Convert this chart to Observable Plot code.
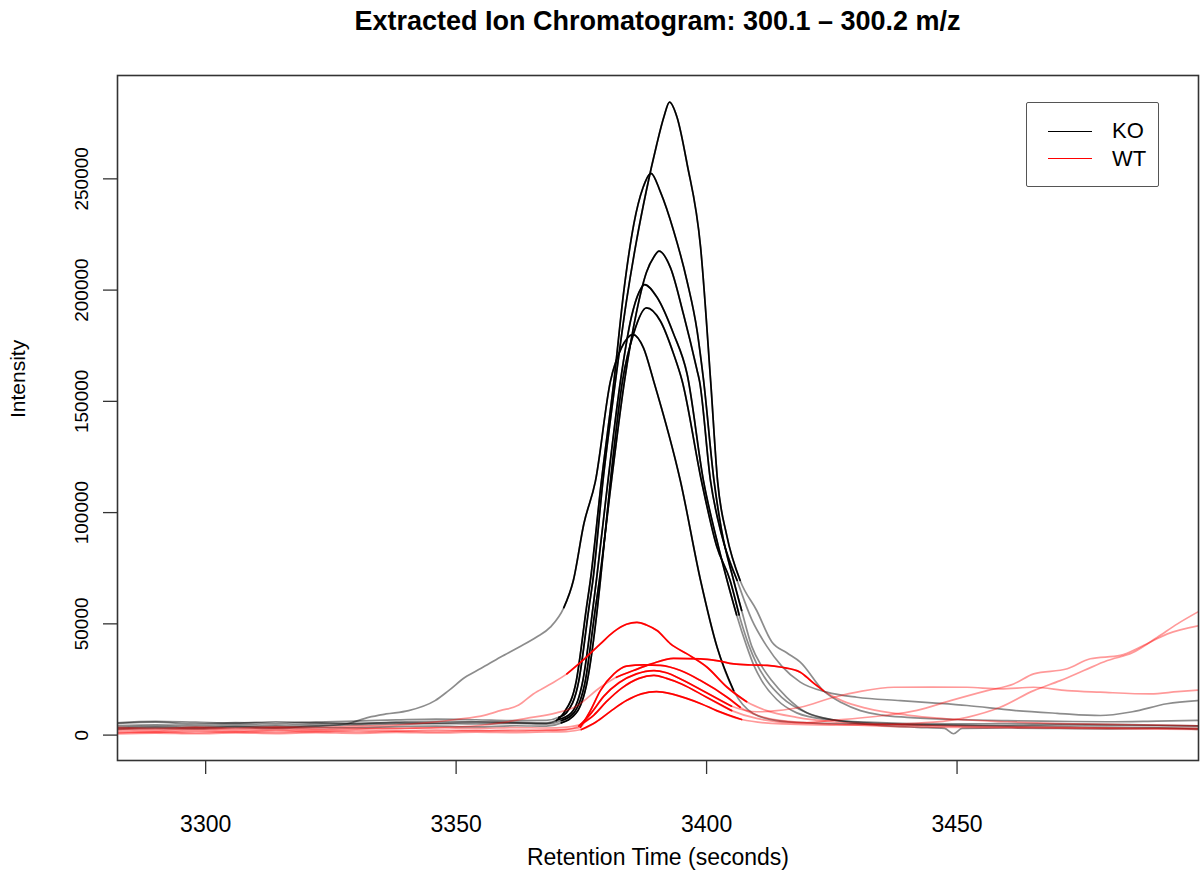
<!DOCTYPE html>
<html>
<head>
<meta charset="utf-8">
<script src="https://cdn.jsdelivr.net/npm/d3@7"></script>
<script src="https://cdn.jsdelivr.net/npm/@observablehq/plot@0.6"></script>
<style>
  body { margin: 0; background: #fff; font-family: "Liberation Sans", Arial, Helvetica, sans-serif; color: #000; }
  #wrap { position: relative; width: 1200px; height: 881px; overflow: hidden; }
  #title { position: absolute; left: 117px; width: 1081px; top: 0; height: 45px; line-height: 42px;
           text-align: center; font-weight: bold; font-size: 27px; }
  #chart { position: absolute; left: 0; top: 45px; }
  #legend { position: absolute; left: 1026px; top: 102px; width: 133px; height: 85px; box-sizing: border-box;
            border: 1.6px solid #555; border-radius: 2px; background: #fff; }
  .lg-line { position: absolute; left: 21px; width: 44px; height: 0; border-top: 1.6px solid; }
  .lg-text { position: absolute; left: 85px; font-size: 22px; line-height: 22px; }
</style>
</head>
<body>
<div id="wrap">
  <div id="title">Extracted Ion Chromatogram: 300.1 – 300.2 m/z</div>
  <div id="chart"></div>
  <div id="legend">
    <div class="lg-line" style="top:28px;border-color:#000"></div>
    <div class="lg-text" style="top:17px">KO</div>
    <div class="lg-line" style="top:55px;border-color:#ff0000"></div>
    <div class="lg-text" style="top:45px">WT</div>
  </div>
</div>
<script>
// ---- data: [retention time (s), intensity] ----
const ko1 = [[3282,5200],[3290,5800],[3298,5000],[3306,5600],[3314,5300],[3322,5800],[3330,6300],[3338,6800],[3346,7200],[3354,6900],[3362,6500],[3368,6600],[3370.5,8000],[3372,10000],[3374.5,24500],[3376.5,57000],[3377.3,69500],[3379.3,114000],[3381.8,159000],[3384,195000],[3386,222000],[3388,245000],[3390,265000],[3391.5,278000],[3392.6,284500],[3394.1,277700],[3396.1,256800],[3398.8,219300],[3400.8,159400],[3402.2,114000],[3404,90000],[3406.7,69500],[3410,56000],[3413,42000],[3416,37000],[3418.7,32800],[3423.3,20000],[3427,14500],[3430.7,11000],[3435,9000],[3440,8000],[3450,7000],[3460,6500],[3470,6200],[3480,6000],[3490,6300],[3498,6600]];
const ko2 = [[3282,4200],[3290,4600],[3298,4300],[3306,4800],[3314,4500],[3322,5000],[3330,5300],[3338,5600],[3346,5400],[3354,5800],[3362,5500],[3368,5200],[3370,6500],[3371.5,10000],[3374,24500],[3376,57000],[3376.8,69500],[3379,114000],[3381.5,159000],[3383.5,200000],[3385.5,230000],[3387.3,246000],[3388.9,252500],[3390.8,244000],[3393.4,226800],[3396.1,204000],[3398.1,181800],[3399.4,159400],[3401.5,114000],[3403,92000],[3405.4,69500],[3407,56000],[3409,40000],[3411,31000],[3413,24500],[3416,17000],[3420,10000],[3425,7000],[3432,5500],[3440,4800],[3450,4500],[3460,4300],[3470,4600],[3480,4400],[3490,4200],[3498,4000]];
const ko3 = [[3282,3500],[3290,3900],[3298,3600],[3306,4000],[3314,3800],[3322,4300],[3330,4600],[3338,5000],[3346,5200],[3354,5000],[3362,5300],[3368,5000],[3371,6500],[3373.5,10000],[3375.8,24500],[3377.8,57000],[3378.6,69500],[3381,114000],[3383.6,159000],[3386,190000],[3388,208000],[3389.5,215000],[3390.5,217500],[3392.8,210000],[3395.4,189000],[3398.1,164000],[3398.6,159000],[3400.8,114000],[3403,90000],[3406.1,69500],[3409,52000],[3412,40000],[3415,31000],[3418.7,23800],[3424,19300],[3430,17000],[3438.7,15500],[3445,14500],[3452,13300],[3461.3,11100],[3470,9800],[3478.6,8800],[3485,10500],[3491.9,14100],[3498,15500]];
const ko4 = [[3282,5500],[3290,6200],[3298,5800],[3306,5400],[3314,6000],[3322,5600],[3330,5200],[3338,5800],[3346,6200],[3354,6000],[3362,5700],[3368,5500],[3370.5,7000],[3373,10000],[3375.3,24500],[3377.3,57000],[3378,69500],[3380.3,114000],[3382.8,159000],[3385,188000],[3386.5,199000],[3387.6,202500],[3390.1,196800],[3393.4,180400],[3396.1,162400],[3399.4,114000],[3402,88000],[3404.1,69500],[3406,54000],[3408,40000],[3409.5,31000],[3411,24500],[3414,16000],[3418,10000],[3424,7000],[3432,5800],[3440,5200],[3450,5000],[3460,5200],[3470,5100],[3480,4800],[3490,4500],[3498,4200]];
const ko5 = [[3282,2500],[3290,3000],[3298,2800],[3306,3300],[3314,3000],[3322,3500],[3330,3300],[3338,3800],[3346,4000],[3354,3700],[3362,4200],[3368,4000],[3371,5500],[3374,10000],[3376.2,24500],[3378.2,57000],[3378.8,69500],[3380.8,114000],[3383.2,159000],[3385.5,181000],[3388,192000],[3390.8,186000],[3393.4,171400],[3395.1,159400],[3399,114000],[3402,85000],[3404.7,69500],[3406.5,54000],[3408.5,40000],[3410,32000],[3412,24500],[3415,17000],[3420,10000],[3426,6500],[3434,4500],[3442,3500],[3447.5,3000],[3449.3,600],[3451,3000],[3460,3200],[3470,3000],[3480,2800],[3490,3000],[3498,2600]];
const ko6 = [[3282,3000],[3290,3500],[3298,3200],[3306,3800],[3314,3400],[3322,4000],[3328,5000],[3332.5,8000],[3336,9500],[3340.5,11000],[3345.8,15500],[3348.5,20000],[3351.8,26000],[3355,30000],[3358.8,35000],[3362.5,39500],[3366,44000],[3368.8,48500],[3371.5,57300],[3373.4,69500],[3375.5,95000],[3377.8,114000],[3380.8,159000],[3383,174000],[3385.3,180000],[3387.4,174000],[3389.4,159400],[3394.8,114000],[3398.8,69500],[3402.1,39500],[3405.4,20000],[3409.3,9700],[3414,6500],[3420,5500],[3430,5000],[3440,4600],[3450,4300],[3460,4000],[3470,3800],[3480,3500],[3490,3300],[3498,3000]];

const wt1 = [[3282,3500],[3290,3000],[3298,3600],[3306,3200],[3314,3700],[3322,3400],[3330,4000],[3338,4500],[3344,5500],[3350,7000],[3355.8,9000],[3358.8,11000],[3362.5,13500],[3365.4,18500],[3368.5,22500],[3372.1,27500],[3375.5,34000],[3378.8,41000],[3381.5,46500],[3384,49800],[3386.1,50700],[3388,49500],[3390.1,47000],[3392.8,41000],[3396.1,36500],[3400.1,30500],[3404.1,21500],[3408,15000],[3412,11000],[3418,8000],[3425,6000],[3435,4800],[3445,4200],[3455,3800],[3465,3600],[3475,3400],[3485,3200],[3498,3000]];
const wt2 = [[3282,2200],[3290,1800],[3298,2400],[3306,2000],[3314,2500],[3322,2200],[3330,2700],[3338,3000],[3346,3400],[3354,4200],[3358.8,5500],[3364,7500],[3370,10000],[3374,13000],[3378.8,21500],[3382,26000],[3385.4,29000],[3389,32000],[3393.4,34500],[3398.8,34300],[3402,33500],[3405.4,32000],[3409,31500],[3412.1,31300],[3415,30500],[3418.7,28300],[3421,24000],[3423.3,20000],[3427,15500],[3432,12000],[3440,9000],[3450,7000],[3460,6000],[3470,5200],[3480,4800],[3490,4500],[3498,4200]];
const wt3 = [[3282,1500],[3290,1200],[3298,1800],[3306,1400],[3314,2000],[3322,1600],[3330,2100],[3338,1800],[3346,2200],[3354,2000],[3362,2300],[3368,2100],[3372,2600],[3374.8,3500],[3376.8,11000],[3378.8,20000],[3381.5,27500],[3384,31000],[3387.5,31600],[3390.8,31300],[3394.8,29000],[3398.8,24500],[3404.1,17000],[3406.7,12500],[3410,9000],[3415,6500],[3425,5000],[3435,4000],[3445,3600],[3455,3400],[3465,3200],[3475,3000],[3485,2800],[3498,2600]];
const wt4 = [[3282,1000],[3290,1400],[3298,1100],[3306,1500],[3314,1200],[3322,1700],[3330,1400],[3338,1800],[3346,1600],[3354,2000],[3362,1800],[3368,2200],[3372,2500],[3374.5,4000],[3377,10000],[3379.5,17500],[3382.5,23500],[3386,27500],[3389.5,29000],[3392,28000],[3395,25000],[3400,19000],[3405,13000],[3410,10500],[3414,11000],[3418.7,12500],[3425.4,17000],[3431,19800],[3437.4,21500],[3445,21600],[3452,21500],[3458.6,20800],[3465.3,21500],[3472,20000],[3478.6,19300],[3488.6,18500],[3494,19500],[3498.6,20300]];
const wt5 = [[3282,2800],[3290,2400],[3298,3000],[3306,2600],[3314,3100],[3322,2700],[3330,3200],[3338,2900],[3346,3300],[3354,3000],[3362,3400],[3368,3200],[3372,3600],[3375,5000],[3377.5,9000],[3380,15000],[3383,21000],[3386.5,25500],[3389.5,26800],[3392,25500],[3395,23000],[3400,17000],[3405,11000],[3410,7500],[3418,5500],[3425,6600],[3435.4,8800],[3442,11100],[3448.7,15500],[3456,20000],[3461.3,23000],[3465.3,27500],[3472,29800],[3476.6,34300],[3482.6,35800],[3487,40000],[3492,45500],[3498.6,49300]];
const wt6 = [[3282,500],[3290,900],[3298,600],[3306,1000],[3314,700],[3322,1100],[3330,800],[3338,1200],[3346,1000],[3354,1300],[3362,1100],[3368,1400],[3372,1600],[3375,2500],[3378,6000],[3381,11000],[3384,15500],[3387,18500],[3390,19500],[3393,18500],[3396,16500],[3399,14000],[3402,11000],[3407,7000],[3415,5000],[3425,4500],[3435,4800],[3445.3,5800],[3452,8000],[3458.6,12500],[3465.3,20000],[3470.6,24500],[3475.3,29000],[3480,33500],[3485,37000],[3490,44000],[3494,50000],[3498.6,56000]];

// integrated peak windows (rt start, rt end) per sample, drawn at full colour
const koWindows = [[3370.5,3409],[3370,3408],[3371,3407],[3370.5,3407],[3371,3408],[3371.5,3405.4]];
const wtWindows = [[3370,3408],[3382,3423.3],[3374.8,3407],[3374.5,3406],[3375,3406],[3375,3407]];

const groups = ["KO", "WT"];
const xTicks = [3300, 3350, 3400, 3450];
const yTicks = [0, 50000, 100000, 150000, 200000, 250000];
const xDomain = [3282.4, 3498.2];
const yDomain = [-11416, 296450];

function toRows(list, group, wins) {
  return list.flatMap((s, i) => s.map(([rt, v]) => ({
    rt, v, id: group + (i + 1), group,
    inWin: rt >= wins[i][0] && rt <= wins[i][1]
  })));
}
const koRows = toRows([ko1, ko2, ko3, ko4, ko5, ko6], groups[0], koWindows);
const wtRows = toRows([wt1, wt2, wt3, wt4, wt5, wt6], groups[1], wtWindows);

const lineOpts = {x: "rt", y: "v", z: "id", strokeWidth: 1.7, curve: "monotone-x", clip: true};

const chart = Plot.plot({
  width: 1200,
  height: 836,
  marginLeft: 117,
  marginRight: 2,
  marginTop: 30,
  marginBottom: 121,
  style: {fontFamily: '"Liberation Sans", Arial, Helvetica, sans-serif', color: "#000", background: "#fff"},
  x: {domain: xDomain, label: null},
  y: {domain: yDomain, label: null},
  marks: [
    Plot.line(koRows, {...lineOpts, stroke: "#000", strokeOpacity: 0.45}),
    Plot.line(koRows.filter(d => d.inWin), {...lineOpts, stroke: "#000", strokeOpacity: 1}),
    Plot.line(wtRows, {...lineOpts, stroke: "#ff0000", strokeOpacity: 0.4}),
    Plot.line(wtRows.filter(d => d.inWin), {...lineOpts, stroke: "#ff0000", strokeOpacity: 1}),
    Plot.frame({stroke: "#333", strokeWidth: 1.6}),
    Plot.axisX({ticks: xTicks, tickSize: 14, tickPadding: 41, fontSize: 23, stroke: "#333", strokeWidth: 1.3, tickFormat: d3.format("d"), label: null}),
    Plot.axisY({ticks: yTicks, tickSize: 14, tickPadding: 16, fontSize: 19, stroke: "#333", strokeWidth: 1.3,
                tickRotate: -90, textAnchor: "middle", lineAnchor: "bottom", tickFormat: d3.format("d"), label: null}),
    Plot.text(["Retention Time (seconds)"], {frameAnchor: "bottom", dy: 104, fontSize: 23, text: d => d}),
    Plot.text(["Intensity"], {frameAnchor: "left", dx: -99, rotate: -90, fontSize: 21, text: d => d})
  ]
});
document.getElementById("chart").appendChild(chart);
</script>
</body>
</html>
